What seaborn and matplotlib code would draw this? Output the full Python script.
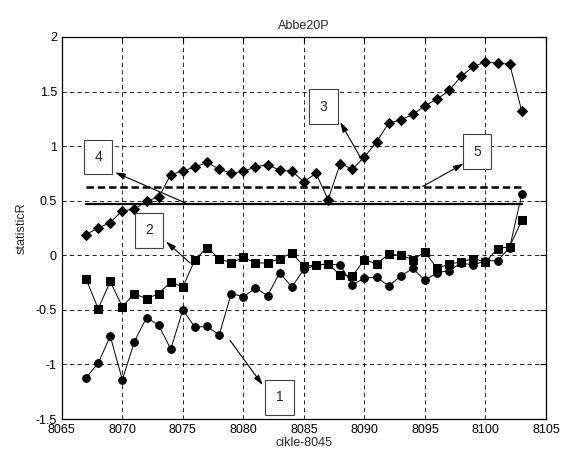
import numpy as np
import pandas as pd
import matplotlib
matplotlib.use("Agg")
import matplotlib.pyplot as plt
import seaborn as sns

# values
cikle = list(range(8067, 8104))

series1 = [-1.12, -0.99, -0.74, -1.14, -0.79, -0.57, -0.64, -0.86, -0.50, -0.66,
           -0.65, -0.73, -0.35, -0.38, -0.30, -0.37, -0.16, -0.29, -0.13, -0.09,
           -0.08, -0.09, -0.27, -0.21, -0.20, -0.28, -0.19, -0.12, -0.23, -0.16,
           -0.14, -0.07, -0.09, -0.05, -0.05, 0.07, 0.56]
series2 = [-0.215, -0.49, -0.24, -0.47, -0.35, -0.40, -0.35, -0.245, -0.29, -0.04,
           0.07, -0.03, -0.07, -0.02, -0.07, -0.07, -0.03, 0.02, -0.10, -0.09,
           -0.08, -0.18, -0.19, -0.04, -0.08, 0.01, 0.00, -0.04, 0.03, -0.12,
           -0.08, -0.06, -0.03, -0.06, 0.06, 0.08, 0.32]
series3 = [0.19, 0.25, 0.30, 0.41, 0.42, 0.50, 0.53, 0.74, 0.77, 0.81,
           0.85, 0.79, 0.75, 0.77, 0.81, 0.83, 0.78, 0.77, 0.675, 0.75,
           0.51, 0.84, 0.79, 0.90, 1.04, 1.21, 1.24, 1.29, 1.37, 1.43,
           1.51, 1.64, 1.73, 1.77, 1.76, 1.75, 1.32]

level_solid = 0.47
level_dashed = 0.63
level_span = [8067, 8103]

# label, box centre, arrow tail, arrow head
labels = ["1", "2", "3", "4", "5"]
box_pos = [(8083.0, -1.30), (8072.2, 0.23), (8086.6, 1.36), (8068.0, 0.90), (8099.3, 0.95)]
arrow_tail = [(8078.9, -0.78), (8075.6, -0.07), (8089.65, 0.90), (8075.4, 0.47), (8094.8, 0.63)]
arrow_head = [(8081.6, -1.19), (8073.6, 0.126), (8088.0, 1.22), (8069.4, 0.76), (8098.2, 0.84)]

sns.set_style("white")
plt.rcParams["font.family"] = ["Liberation Sans", "DejaVu Sans"]

df = pd.DataFrame({
    "cikle": cikle * 3,
    "statisticR": series1 + series2 + series3,
    "series": ["1"] * len(cikle) + ["2"] * len(cikle) + ["3"] * len(cikle),
})

fig = plt.figure(figsize=(5.62, 4.55), dpi=100)
ax = fig.add_axes([0.110, 0.079, 0.8615, 0.8398])

sns.lineplot(data=df, x="cikle", y="statisticR", hue="series", style="series",
             markers={"1": "o", "2": "s", "3": "D"}, dashes=False,
             palette=["black"] * 3, legend=False, markersize=5.5,
             linewidth=0.7, markeredgecolor="black", ax=ax)

ax.plot(level_span, [level_solid] * 2, color="black", lw=1.6)
ax.plot(level_span, [level_dashed] * 2, color="black", lw=1.8, linestyle=(0, (3, 1.5)))

for lab, bp, tail, head in zip(labels, box_pos, arrow_tail, arrow_head):
    ax.annotate("", xy=head, xytext=tail,
                arrowprops=dict(arrowstyle="-|>,head_length=0.6,head_width=0.18",
                                color="black", lw=0.8, shrinkA=0, shrinkB=0))
    ax.text(bp[0], bp[1], lab, ha="center", va="center", fontsize=10,
            bbox=dict(boxstyle="square,pad=0.75", fc="white", ec="0.25", lw=0.8))

ax.set_xlim(8065, 8105)
ax.set_ylim(-1.5, 2)
ax.set_xticks(np.arange(8065, 8106, 5))
ax.set_yticks(np.arange(-1.5, 2.01, 0.5))
ax.set_yticklabels(["-1.5", "-1", "-0.5", "0", "0.5", "1", "1.5", "2"])
ax.grid(True, color="black", linestyle=(0, (5, 4)), lw=0.6)
ax.tick_params(direction="in", length=4, top=True, right=True, labelsize=9, colors="black")
for sp in ax.spines.values():
    sp.set_color("black")
    sp.set_linewidth(0.9)

ax.set_title("Abbe20P", fontsize=9)
ax.set_xlabel("cikle-8045", fontsize=9, labelpad=1)
ax.set_ylabel("statisticR", fontsize=9, labelpad=6)

fig.savefig("out.png", dpi=100)
